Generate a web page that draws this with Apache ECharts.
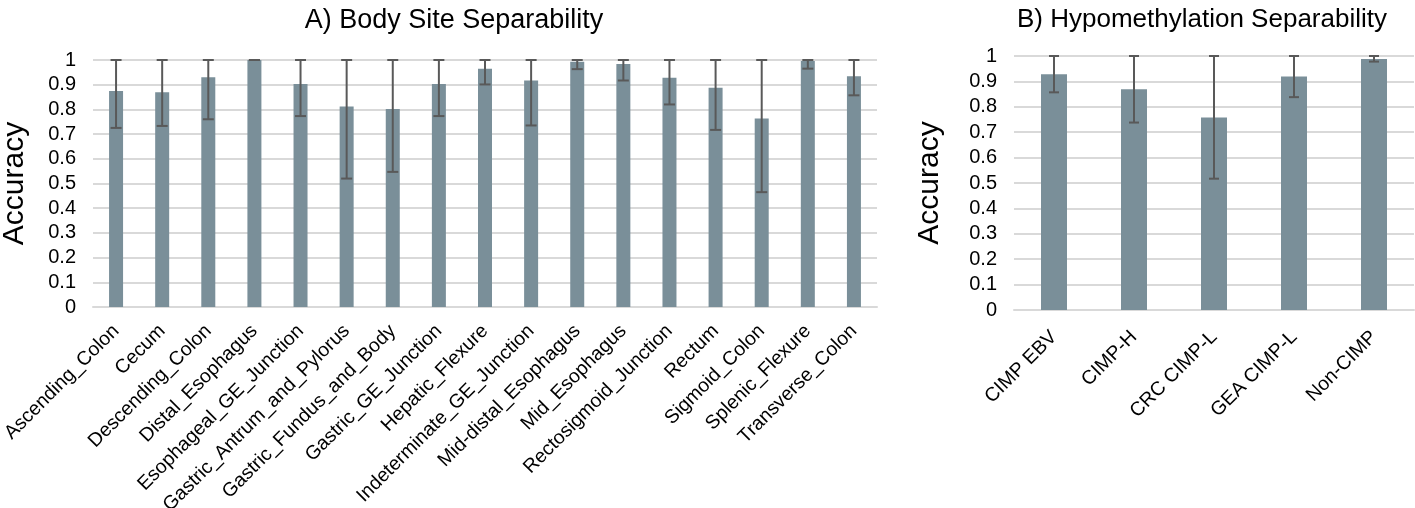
<!DOCTYPE html>
<html>
<head>
<meta charset="utf-8">
<title>Separability</title>
<script src="https://cdn.jsdelivr.net/npm/echarts@6/dist/echarts.min.js"></script>
<style>
  html, body { margin: 0; padding: 0; background: #fff; }
  #main { width: 1415px; height: 508px; }
</style>
</head>
<body>
<div id="main"></div>
<script>
// A) body sites
const bodySites = ['Ascending_Colon', 'Cecum', 'Descending_Colon', 'Distal_Esophagus',
  'Esophageal_GE_Junction', 'Gastric_Antrum_and_Pylorus', 'Gastric_Fundus_and_Body',
  'Gastric_GE_Junction', 'Hepatic_Flexure', 'Indeterminate_GE_Junction',
  'Mid-distal_Esophagus', 'Mid_Esophagus', 'Rectosigmoid_Junction', 'Rectum',
  'Sigmoid_Colon', 'Splenic_Flexure', 'Transverse_Colon']
const bodyAcc = [0.874, 0.869, 0.930, 1.0, 0.903, 0.812, 0.802, 0.903, 0.965, 0.917,
  0.993, 0.984, 0.928, 0.888, 0.763, 0.996, 0.934]
const bodyLow = [0.725, 0.733, 0.760, 1.0, 0.773, 0.520, 0.547, 0.773, 0.901, 0.735,
  0.963, 0.917, 0.820, 0.717, 0.465, 0.965, 0.857]
const bodyHigh = [1, 1, 1, 1, 1, 1, 1, 1, 1, 1, 1, 1, 1, 1, 1, 1, 1]

// B) hypomethylation groups
const hypoGroups = ['CIMP EBV', 'CIMP-H', 'CRC CIMP-L', 'GEA CIMP-L', 'Non-CIMP']
const hypoAcc = [0.928, 0.869, 0.758, 0.919, 0.988]
const hypoLow = [0.857, 0.738, 0.517, 0.838, 0.978]
const hypoHigh = [1, 1, 1, 1, 1]

const yTicks = ['0', '0.1', '0.2', '0.3', '0.4', '0.5', '0.6', '0.7', '0.8', '0.9', '1']

const FONT = '"Liberation Sans", Arial, sans-serif'
const barColor = '#7a8f99'
const gridColor = '#d9d9d9'

function errBars(lows, highs) {
  return lows.map((v, i) => [i, v, highs[i]])
}

// draws whisker + caps through the axis scale
function errorRender(capHalf) {
  return function(params, api) {
    const x = api.value(0)
    const lo = api.coord([x, api.value(1)])
    const hi = api.coord([x, api.value(2)])
    const style = { stroke: '#595959', lineWidth: 2 }
    return {
      type: 'group',
      children: [
        { type: 'line', shape: { x1: lo[0], y1: lo[1], x2: hi[0], y2: hi[1] }, style: style },
        { type: 'line', shape: { x1: lo[0] - capHalf, y1: lo[1], x2: lo[0] + capHalf, y2: lo[1] }, style: style },
        { type: 'line', shape: { x1: hi[0] - capHalf, y1: hi[1], x2: hi[0] + capHalf, y2: hi[1] }, style: style }
      ]
    }
  }
}

function yAxisOpt(gridIndex, nameGap) {
  return {
    gridIndex: gridIndex,
    type: 'value',
    min: 0,
    max: 1,
    interval: 0.1,
    name: 'Accuracy',
    nameLocation: 'middle',
    nameGap: nameGap,
    nameRotate: 90,
    nameTextStyle: { fontFamily: FONT, fontSize: 30, color: '#000' },
    axisLine: { show: false },
    axisTick: { show: false },
    splitLine: { lineStyle: { color: gridColor, width: 2 } },
    axisLabel: {
      fontFamily: FONT,
      fontSize: 20,
      color: '#000',
      margin: 17,
      formatter: function(v) { return yTicks[Math.round(v * 10)] }
    }
  }
}

function xAxisOpt(gridIndex, cats, margin) {
  return {
    gridIndex: gridIndex,
    type: 'category',
    data: cats,
    axisLine: { lineStyle: { color: gridColor, width: 2 } },
    axisTick: { show: false },
    axisLabel: {
      interval: 0,
      rotate: 45,
      fontFamily: FONT,
      fontSize: 19.5,
      color: '#000',
      margin: margin
    }
  }
}

const myChart = echarts.init(document.getElementById('main'))
myChart.setOption({
  animation: false,
  title: [
    {
      text: 'A) Body Site Separability',
      left: 449,
      top: 2,
      textAlign: 'center',
      textStyle: { fontFamily: FONT, fontSize: 27, fontWeight: 'normal', color: '#000' }
    },
    {
      text: 'B) Hypomethylation Separability',
      left: 1197,
      top: 2,
      textAlign: 'center',
      textStyle: { fontFamily: FONT, fontSize: 26, fontWeight: 'normal', color: '#000' }
    }
  ],
  grid: [
    { left: 93, right: 538, top: 60, bottom: 201, containLabel: false, outerBoundsMode: 'none' },
    { left: 1014, right: 1, top: 56, bottom: 198, containLabel: false, outerBoundsMode: 'none' }
  ],
  xAxis: [xAxisOpt(0, bodySites, 21), xAxisOpt(1, hypoGroups, 24)],
  yAxis: [yAxisOpt(0, 63), yAxisOpt(1, 69)],
  series: [
    {
      type: 'bar',
      xAxisIndex: 0,
      yAxisIndex: 0,
      data: bodyAcc,
      barWidth: 14,
      itemStyle: { color: barColor }
    },
    {
      type: 'custom',
      xAxisIndex: 0,
      yAxisIndex: 0,
      z: 3,
      renderItem: errorRender(5.5),
      encode: { x: 0, y: [1, 2] },
      data: errBars(bodyLow, bodyHigh)
    },
    {
      type: 'bar',
      xAxisIndex: 1,
      yAxisIndex: 1,
      data: hypoAcc,
      barWidth: 26,
      itemStyle: { color: barColor }
    },
    {
      type: 'custom',
      xAxisIndex: 1,
      yAxisIndex: 1,
      z: 3,
      renderItem: errorRender(5),
      encode: { x: 0, y: [1, 2] },
      data: errBars(hypoLow, hypoHigh)
    }
  ]
})
window.addEventListener('resize', function() {
  myChart.resize()
})
</script>
</body>
</html>
